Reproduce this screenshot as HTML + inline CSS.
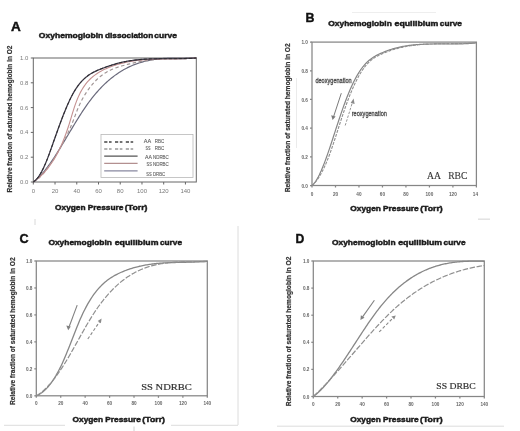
<!DOCTYPE html><html><head><meta charset="utf-8"><style>html,body{margin:0;padding:0;background:#fff;width:520px;height:431px;overflow:hidden}svg{display:block;filter:blur(0.35px)}text{font-family:"Liberation Sans",sans-serif}</style></head><body>
<svg width="520" height="431" viewBox="0 0 520 431">
<rect width="520" height="431" fill="#fff"/>
<rect x="33.30" y="58.00" width="163.00" height="124.00" fill="none" stroke="#666666" stroke-width="1.00"/>
<line x1="30.80" y1="182.00" x2="33.30" y2="182.00" stroke="#666666" stroke-width="1.00"/>
<text x="28.30" y="184.04" font-size="6.00" fill="#7a7a7a" text-anchor="end" textLength="8.3" lengthAdjust="spacingAndGlyphs">0.0</text>
<line x1="30.80" y1="157.20" x2="33.30" y2="157.20" stroke="#666666" stroke-width="1.00"/>
<text x="28.30" y="159.24" font-size="6.00" fill="#7a7a7a" text-anchor="end" textLength="8.3" lengthAdjust="spacingAndGlyphs">0.2</text>
<line x1="30.80" y1="132.40" x2="33.30" y2="132.40" stroke="#666666" stroke-width="1.00"/>
<text x="28.30" y="134.44" font-size="6.00" fill="#7a7a7a" text-anchor="end" textLength="8.3" lengthAdjust="spacingAndGlyphs">0.4</text>
<line x1="30.80" y1="107.60" x2="33.30" y2="107.60" stroke="#666666" stroke-width="1.00"/>
<text x="28.30" y="109.64" font-size="6.00" fill="#7a7a7a" text-anchor="end" textLength="8.3" lengthAdjust="spacingAndGlyphs">0.6</text>
<line x1="30.80" y1="82.80" x2="33.30" y2="82.80" stroke="#666666" stroke-width="1.00"/>
<text x="28.30" y="84.84" font-size="6.00" fill="#7a7a7a" text-anchor="end" textLength="8.3" lengthAdjust="spacingAndGlyphs">0.8</text>
<line x1="30.80" y1="58.00" x2="33.30" y2="58.00" stroke="#666666" stroke-width="1.00"/>
<text x="28.30" y="60.04" font-size="6.00" fill="#7a7a7a" text-anchor="end" textLength="8.3" lengthAdjust="spacingAndGlyphs">1.0</text>
<line x1="33.30" y1="182.00" x2="33.30" y2="184.50" stroke="#666666" stroke-width="1.00"/>
<text x="33.30" y="193.20" font-size="6.00" fill="#7a7a7a" text-anchor="middle" textLength="3.3" lengthAdjust="spacingAndGlyphs">0</text>
<line x1="55.03" y1="182.00" x2="55.03" y2="184.50" stroke="#666666" stroke-width="1.00"/>
<text x="55.03" y="193.20" font-size="6.00" fill="#7a7a7a" text-anchor="middle" textLength="6.7" lengthAdjust="spacingAndGlyphs">20</text>
<line x1="76.77" y1="182.00" x2="76.77" y2="184.50" stroke="#666666" stroke-width="1.00"/>
<text x="76.77" y="193.20" font-size="6.00" fill="#7a7a7a" text-anchor="middle" textLength="6.7" lengthAdjust="spacingAndGlyphs">40</text>
<line x1="98.50" y1="182.00" x2="98.50" y2="184.50" stroke="#666666" stroke-width="1.00"/>
<text x="98.50" y="193.20" font-size="6.00" fill="#7a7a7a" text-anchor="middle" textLength="6.7" lengthAdjust="spacingAndGlyphs">60</text>
<line x1="120.23" y1="182.00" x2="120.23" y2="184.50" stroke="#666666" stroke-width="1.00"/>
<text x="120.23" y="193.20" font-size="6.00" fill="#7a7a7a" text-anchor="middle" textLength="6.7" lengthAdjust="spacingAndGlyphs">80</text>
<line x1="141.97" y1="182.00" x2="141.97" y2="184.50" stroke="#666666" stroke-width="1.00"/>
<text x="141.97" y="193.20" font-size="6.00" fill="#7a7a7a" text-anchor="middle" textLength="10.0" lengthAdjust="spacingAndGlyphs">100</text>
<line x1="163.70" y1="182.00" x2="163.70" y2="184.50" stroke="#666666" stroke-width="1.00"/>
<text x="163.70" y="193.20" font-size="6.00" fill="#7a7a7a" text-anchor="middle" textLength="10.0" lengthAdjust="spacingAndGlyphs">120</text>
<line x1="185.43" y1="182.00" x2="185.43" y2="184.50" stroke="#666666" stroke-width="1.00"/>
<text x="185.43" y="193.20" font-size="6.00" fill="#7a7a7a" text-anchor="middle" textLength="10.0" lengthAdjust="spacingAndGlyphs">140</text>
<text x="10.90" y="30.80" font-size="12.60" fill="#111" font-weight="bold" stroke="#111" stroke-width="0.40" textLength="9.8" lengthAdjust="spacingAndGlyphs">A</text>
<text x="38.85" y="37.90" font-size="7.60" fill="#1a1a1a" font-weight="bold" stroke="#1a1a1a" stroke-width="0.45" textLength="64.5" lengthAdjust="spacingAndGlyphs">Oxyhemoglobin</text>
<text x="104.95" y="37.90" font-size="7.60" fill="#1a1a1a" font-weight="bold" stroke="#1a1a1a" stroke-width="0.45" textLength="48.3" lengthAdjust="spacingAndGlyphs">dissociation</text>
<text x="154.25" y="37.90" font-size="7.60" fill="#1a1a1a" font-weight="bold" stroke="#1a1a1a" stroke-width="0.45" textLength="22.6" lengthAdjust="spacingAndGlyphs">curve</text>
<text x="55.05" y="209.90" font-size="7.70" fill="#1a1a1a" font-weight="bold" stroke="#1a1a1a" stroke-width="0.45" textLength="30.5" lengthAdjust="spacingAndGlyphs">Oxygen</text>
<text x="87.75" y="209.90" font-size="7.70" fill="#1a1a1a" font-weight="bold" stroke="#1a1a1a" stroke-width="0.45" textLength="35.7" lengthAdjust="spacingAndGlyphs">Pressure</text>
<text x="124.85" y="209.90" font-size="7.70" fill="#1a1a1a" font-weight="bold" stroke="#1a1a1a" stroke-width="0.45" textLength="22.6" lengthAdjust="spacingAndGlyphs">(Torr)</text>
<text transform="translate(11.6,119) rotate(-90)" x="0" y="0" font-size="7" fill="#333" stroke="#333" stroke-width="0.2" font-weight="bold" text-anchor="middle" textLength="147" lengthAdjust="spacingAndGlyphs">Relative fraction of saturated hemoglobin in O2</text>
<g fill="none" stroke-linejoin="round">
<path d="M33.30 182.00 L34.33 181.26 L35.35 180.43 L36.38 179.56 L37.40 178.63 L38.43 177.65 L39.45 176.62 L40.48 175.54 L41.50 174.42 L42.53 173.26 L43.55 172.05 L44.58 170.80 L45.60 169.52 L46.63 168.19 L47.65 166.83 L48.68 165.44 L49.70 164.01 L50.73 162.56 L51.75 161.07 L52.78 159.56 L53.80 158.02 L54.83 156.46 L55.85 154.88 L56.88 153.27 L57.90 151.65 L58.93 150.01 L59.95 148.35 L60.98 146.68 L62.00 145.00 L63.03 143.31 L64.05 141.61 L65.08 139.90 L66.11 138.19 L67.13 136.47 L68.16 134.75 L69.18 133.03 L70.21 131.31 L71.23 129.60 L72.26 127.89 L73.28 126.18 L74.31 124.49 L75.33 122.80 L76.36 121.13 L77.38 119.46 L78.41 117.82 L79.43 116.19 L80.46 114.57 L81.48 112.98 L82.51 111.41 L83.53 109.86 L84.56 108.33 L85.58 106.83 L86.61 105.36 L87.63 103.92 L88.66 102.51 L89.68 101.13 L90.71 99.78 L91.73 98.45 L92.76 97.15 L93.78 95.88 L94.81 94.64 L95.83 93.43 L96.86 92.24 L97.88 91.08 L98.91 89.95 L99.94 88.84 L100.96 87.75 L101.99 86.70 L103.01 85.66 L104.04 84.66 L105.06 83.67 L106.09 82.71 L107.11 81.78 L108.14 80.87 L109.16 79.98 L110.19 79.12 L111.21 78.27 L112.24 77.45 L113.26 76.66 L114.29 75.88 L115.31 75.13 L116.34 74.39 L117.36 73.68 L118.39 72.99 L119.41 72.32 L120.44 71.67 L121.46 71.04 L122.49 70.42 L123.51 69.83 L124.54 69.26 L125.56 68.70 L126.59 68.16 L127.61 67.65 L128.64 67.14 L129.66 66.66 L130.69 66.19 L131.72 65.74 L132.74 65.31 L133.77 64.89 L134.79 64.49 L135.82 64.10 L136.84 63.73 L137.87 63.37 L138.89 63.03 L139.92 62.70 L140.94 62.39 L141.97 62.09 L142.99 61.80 L144.02 61.53 L145.04 61.27 L146.07 61.02 L147.09 60.79 L148.12 60.56 L149.14 60.35 L150.17 60.15 L151.19 59.96 L152.22 59.78 L153.24 59.62 L154.27 59.46 L155.29 59.31 L156.32 59.17 L157.34 59.04 L158.37 58.92 L159.39 58.81 L160.42 58.70 L161.44 58.61 L162.47 58.52 L163.49 58.44 L164.52 58.37 L165.55 58.30 L166.57 58.24 L167.60 58.19 L168.62 58.14 L169.65 58.10 L170.67 58.06 L171.70 58.03 L172.72 58.00 L173.75 58.00 L174.77 58.00 L175.80 58.00 L176.82 58.00 L177.85 58.00 L178.87 58.00 L179.90 58.00 L180.92 58.00 L181.95 58.00 L182.97 58.00 L184.00 58.00 L185.02 58.00 L186.05 58.00 L187.07 58.00 L188.10 58.00 L189.12 58.00 L190.15 58.00 L191.17 58.00 L192.20 58.00 L193.22 58.00 L194.25 58.01 L195.27 58.01 L196.30 58.01" stroke="#6a6a7c" stroke-width="1.2"/>
<path d="M33.30 182.00 L34.33 181.44 L35.35 180.82 L36.38 180.12 L37.40 179.35 L38.43 178.50 L39.45 177.60 L40.48 176.62 L41.50 175.59 L42.53 174.49 L43.55 173.33 L44.58 172.12 L45.60 170.85 L46.63 169.53 L47.65 168.15 L48.68 166.73 L49.70 165.26 L50.73 163.74 L51.75 162.18 L52.78 160.58 L53.80 158.94 L54.83 157.27 L55.85 155.56 L56.88 153.81 L57.90 152.03 L58.93 150.23 L59.95 148.40 L60.98 146.54 L62.00 144.66 L63.03 142.75 L64.05 140.81 L65.08 138.83 L66.11 136.79 L67.13 134.70 L68.16 132.54 L69.18 130.31 L70.21 127.99 L71.23 125.58 L72.26 123.07 L73.28 120.46 L74.31 117.78 L75.33 115.08 L76.36 112.40 L77.38 109.79 L78.41 107.29 L79.43 104.95 L80.46 102.77 L81.48 100.74 L82.51 98.84 L83.53 97.03 L84.56 95.31 L85.58 93.65 L86.61 92.07 L87.63 90.54 L88.66 89.09 L89.68 87.69 L90.71 86.35 L91.73 85.08 L92.76 83.86 L93.78 82.70 L94.81 81.59 L95.83 80.53 L96.86 79.52 L97.88 78.57 L98.91 77.65 L99.94 76.79 L100.96 75.97 L101.99 75.19 L103.01 74.45 L104.04 73.75 L105.06 73.08 L106.09 72.45 L107.11 71.85 L108.14 71.29 L109.16 70.76 L110.19 70.25 L111.21 69.77 L112.24 69.31 L113.26 68.88 L114.29 68.47 L115.31 68.08 L116.34 67.71 L117.36 67.35 L118.39 67.01 L119.41 66.68 L120.44 66.36 L121.46 66.05 L122.49 65.75 L123.51 65.45 L124.54 65.17 L125.56 64.89 L126.59 64.61 L127.61 64.35 L128.64 64.09 L129.66 63.84 L130.69 63.59 L131.72 63.35 L132.74 63.12 L133.77 62.90 L134.79 62.68 L135.82 62.46 L136.84 62.26 L137.87 62.06 L138.89 61.86 L139.92 61.67 L140.94 61.49 L141.97 61.31 L142.99 61.14 L144.02 60.98 L145.04 60.82 L146.07 60.66 L147.09 60.51 L148.12 60.37 L149.14 60.23 L150.17 60.10 L151.19 59.97 L152.22 59.84 L153.24 59.73 L154.27 59.61 L155.29 59.50 L156.32 59.40 L157.34 59.30 L158.37 59.20 L159.39 59.11 L160.42 59.02 L161.44 58.94 L162.47 58.86 L163.49 58.79 L164.52 58.72 L165.55 58.65 L166.57 58.58 L167.60 58.53 L168.62 58.47 L169.65 58.42 L170.67 58.37 L171.70 58.32 L172.72 58.28 L173.75 58.24 L174.77 58.20 L175.80 58.17 L176.82 58.14 L177.85 58.11 L178.87 58.09 L179.90 58.06 L180.92 58.04 L181.95 58.03 L182.97 58.01 L184.00 58.00 L185.02 58.00 L186.05 58.00 L187.07 58.00 L188.10 58.00 L189.12 58.00 L190.15 58.00 L191.17 58.00 L192.20 58.00 L193.22 58.00 L194.25 58.00 L195.27 58.00 L196.30 58.00" stroke="#a09494" stroke-width="1.15" stroke-dasharray="3.5 2.5"/>
<path d="M33.30 182.00 L34.33 181.28 L35.35 180.52 L36.38 179.73 L37.40 178.91 L38.43 178.05 L39.45 177.15 L40.48 176.22 L41.50 175.24 L42.53 174.21 L43.55 173.14 L44.58 172.03 L45.60 170.87 L46.63 169.65 L47.65 168.39 L48.68 167.07 L49.70 165.70 L50.73 164.27 L51.75 162.78 L52.78 161.23 L53.80 159.61 L54.83 157.92 L55.85 156.16 L56.88 154.31 L57.90 152.37 L58.93 150.35 L59.95 148.22 L60.98 146.00 L62.00 143.67 L63.03 141.23 L64.05 138.67 L65.08 136.00 L66.11 133.21 L67.13 130.29 L68.16 127.24 L69.18 124.07 L70.21 120.76 L71.23 117.36 L72.26 113.95 L73.28 110.61 L74.31 107.41 L75.33 104.40 L76.36 101.62 L77.38 99.03 L78.41 96.64 L79.43 94.42 L80.46 92.37 L81.48 90.47 L82.51 88.72 L83.53 87.10 L84.56 85.60 L85.58 84.20 L86.61 82.90 L87.63 81.69 L88.66 80.56 L89.68 79.50 L90.71 78.51 L91.73 77.59 L92.76 76.72 L93.78 75.91 L94.81 75.13 L95.83 74.40 L96.86 73.69 L97.88 73.02 L98.91 72.38 L99.94 71.77 L100.96 71.19 L101.99 70.63 L103.01 70.09 L104.04 69.58 L105.06 69.10 L106.09 68.63 L107.11 68.18 L108.14 67.75 L109.16 67.34 L110.19 66.94 L111.21 66.56 L112.24 66.19 L113.26 65.83 L114.29 65.48 L115.31 65.15 L116.34 64.82 L117.36 64.51 L118.39 64.21 L119.41 63.93 L120.44 63.65 L121.46 63.38 L122.49 63.13 L123.51 62.88 L124.54 62.65 L125.56 62.42 L126.59 62.21 L127.61 62.00 L128.64 61.81 L129.66 61.62 L130.69 61.44 L131.72 61.27 L132.74 61.11 L133.77 60.95 L134.79 60.81 L135.82 60.67 L136.84 60.54 L137.87 60.42 L138.89 60.30 L139.92 60.19 L140.94 60.09 L141.97 59.99 L142.99 59.90 L144.02 59.81 L145.04 59.73 L146.07 59.66 L147.09 59.59 L148.12 59.53 L149.14 59.47 L150.17 59.42 L151.19 59.36 L152.22 59.32 L153.24 59.28 L154.27 59.24 L155.29 59.20 L156.32 59.17 L157.34 59.14 L158.37 59.12 L159.39 59.09 L160.42 59.07 L161.44 59.05 L162.47 59.03 L163.49 59.02 L164.52 59.00 L165.55 58.99 L166.57 58.98 L167.60 58.96 L168.62 58.95 L169.65 58.94 L170.67 58.93 L171.70 58.92 L172.72 58.91 L173.75 58.89 L174.77 58.88 L175.80 58.87 L176.82 58.85 L177.85 58.83 L178.87 58.81 L179.90 58.79 L180.92 58.77 L181.95 58.74 L182.97 58.71 L184.00 58.68 L185.02 58.65 L186.05 58.61 L187.07 58.57 L188.10 58.52 L189.12 58.48 L190.15 58.42 L191.17 58.36 L192.20 58.30 L193.22 58.23 L194.25 58.16 L195.27 58.08 L196.30 58.00" stroke="#c49090" stroke-width="1.1"/>
<path d="M33.30 181.99 L34.33 181.27 L35.35 180.40 L36.38 179.36 L37.40 178.17 L38.43 176.82 L39.45 175.32 L40.48 173.67 L41.50 171.87 L42.53 169.92 L43.55 167.84 L44.58 165.61 L45.60 163.24 L46.63 160.74 L47.65 158.13 L48.68 155.41 L49.70 152.63 L50.73 149.78 L51.75 146.90 L52.78 144.00 L53.80 141.09 L54.83 138.19 L55.85 135.30 L56.88 132.42 L57.90 129.57 L58.93 126.74 L59.95 123.94 L60.98 121.18 L62.00 118.47 L63.03 115.80 L64.05 113.19 L65.08 110.64 L66.11 108.16 L67.13 105.75 L68.16 103.42 L69.18 101.17 L70.21 99.01 L71.23 96.95 L72.26 94.98 L73.28 93.12 L74.31 91.36 L75.33 89.70 L76.36 88.12 L77.38 86.64 L78.41 85.24 L79.43 83.92 L80.46 82.68 L81.48 81.51 L82.51 80.42 L83.53 79.39 L84.56 78.43 L85.58 77.53 L86.61 76.68 L87.63 75.89 L88.66 75.15 L89.68 74.46 L90.71 73.81 L91.73 73.20 L92.76 72.63 L93.78 72.09 L94.81 71.58 L95.83 71.09 L96.86 70.63 L97.88 70.19 L98.91 69.76 L99.94 69.34 L100.96 68.94 L101.99 68.54 L103.01 68.14 L104.04 67.76 L105.06 67.38 L106.09 67.01 L107.11 66.64 L108.14 66.29 L109.16 65.94 L110.19 65.60 L111.21 65.26 L112.24 64.94 L113.26 64.62 L114.29 64.32 L115.31 64.02 L116.34 63.73 L117.36 63.45 L118.39 63.18 L119.41 62.92 L120.44 62.66 L121.46 62.42 L122.49 62.19 L123.51 61.97 L124.54 61.75 L125.56 61.55 L126.59 61.36 L127.61 61.17 L128.64 61.00 L129.66 60.83 L130.69 60.67 L131.72 60.52 L132.74 60.37 L133.77 60.24 L134.79 60.11 L135.82 59.99 L136.84 59.88 L137.87 59.77 L138.89 59.67 L139.92 59.57 L140.94 59.49 L141.97 59.40 L142.99 59.33 L144.02 59.26 L145.04 59.19 L146.07 59.13 L147.09 59.08 L148.12 59.03 L149.14 58.98 L150.17 58.94 L151.19 58.90 L152.22 58.87 L153.24 58.84 L154.27 58.81 L155.29 58.79 L156.32 58.77 L157.34 58.75 L158.37 58.73 L159.39 58.72 L160.42 58.71 L161.44 58.70 L162.47 58.69 L163.49 58.69 L164.52 58.68 L165.55 58.68 L166.57 58.68 L167.60 58.68 L168.62 58.67 L169.65 58.67 L170.67 58.67 L171.70 58.67 L172.72 58.67 L173.75 58.66 L174.77 58.66 L175.80 58.66 L176.82 58.65 L177.85 58.64 L178.87 58.63 L179.90 58.62 L180.92 58.61 L181.95 58.59 L182.97 58.57 L184.00 58.55 L185.02 58.53 L186.05 58.50 L187.07 58.47 L188.10 58.43 L189.12 58.40 L190.15 58.35 L191.17 58.31 L192.20 58.26 L193.22 58.20 L194.25 58.14 L195.27 58.07 L196.30 58.00" stroke="#454050" stroke-width="1.3"/>
<path d="M33.30 181.99 L34.33 181.27 L35.35 180.40 L36.38 179.36 L37.40 178.17 L38.43 176.82 L39.45 175.32 L40.48 173.67 L41.50 171.87 L42.53 169.92 L43.55 167.84 L44.58 165.61 L45.60 163.24 L46.63 160.74 L47.65 158.13 L48.68 155.41 L49.70 152.63 L50.73 149.78 L51.75 146.90 L52.78 144.00 L53.80 141.09 L54.83 138.19 L55.85 135.30 L56.88 132.42 L57.90 129.57 L58.93 126.74 L59.95 123.94 L60.98 121.18 L62.00 118.47 L63.03 115.80 L64.05 113.19 L65.08 110.64 L66.11 108.16 L67.13 105.75 L68.16 103.42 L69.18 101.17 L70.21 99.01 L71.23 96.95 L72.26 94.98 L73.28 93.12 L74.31 91.36 L75.33 89.70 L76.36 88.12 L77.38 86.64 L78.41 85.24 L79.43 83.92 L80.46 82.68 L81.48 81.51 L82.51 80.42 L83.53 79.39 L84.56 78.43 L85.58 77.53 L86.61 76.68 L87.63 75.89 L88.66 75.15 L89.68 74.46 L90.71 73.81 L91.73 73.20 L92.76 72.63 L93.78 72.09 L94.81 71.58 L95.83 71.09 L96.86 70.63 L97.88 70.19 L98.91 69.76 L99.94 69.34 L100.96 68.94 L101.99 68.54 L103.01 68.14 L104.04 67.76 L105.06 67.38 L106.09 67.01 L107.11 66.64 L108.14 66.29 L109.16 65.94 L110.19 65.60 L111.21 65.26 L112.24 64.94 L113.26 64.62 L114.29 64.32 L115.31 64.02 L116.34 63.73 L117.36 63.45 L118.39 63.18 L119.41 62.92 L120.44 62.66 L121.46 62.42 L122.49 62.19 L123.51 61.97 L124.54 61.75 L125.56 61.55 L126.59 61.36 L127.61 61.17 L128.64 61.00 L129.66 60.83 L130.69 60.67 L131.72 60.52 L132.74 60.37 L133.77 60.24 L134.79 60.11 L135.82 59.99 L136.84 59.88 L137.87 59.77 L138.89 59.67 L139.92 59.57 L140.94 59.49 L141.97 59.40 L142.99 59.33 L144.02 59.26 L145.04 59.19 L146.07 59.13 L147.09 59.08 L148.12 59.03 L149.14 58.98 L150.17 58.94 L151.19 58.90 L152.22 58.87 L153.24 58.84 L154.27 58.81 L155.29 58.79 L156.32 58.77 L157.34 58.75 L158.37 58.73 L159.39 58.72 L160.42 58.71 L161.44 58.70 L162.47 58.69 L163.49 58.69 L164.52 58.68 L165.55 58.68 L166.57 58.68 L167.60 58.68 L168.62 58.67 L169.65 58.67 L170.67 58.67 L171.70 58.67 L172.72 58.67 L173.75 58.66 L174.77 58.66 L175.80 58.66 L176.82 58.65 L177.85 58.64 L178.87 58.63 L179.90 58.62 L180.92 58.61 L181.95 58.59 L182.97 58.57 L184.00 58.55 L185.02 58.53 L186.05 58.50 L187.07 58.47 L188.10 58.43 L189.12 58.40 L190.15 58.35 L191.17 58.31 L192.20 58.26 L193.22 58.20 L194.25 58.14 L195.27 58.07 L196.30 58.00" stroke="#2a2a2a" stroke-width="1.0" stroke-dasharray="3 2"/>
</g>
<rect x="101" y="134.5" width="92" height="43" fill="#fff" stroke="#b8b8b8" stroke-width="0.8"/>
<line x1="104.2" y1="142.00" x2="134.00" y2="142.00" stroke="#444" stroke-width="1.40" stroke-dasharray="3.2 1.6 2.6 3.4"/>
<line x1="104.2" y1="149.00" x2="134.00" y2="149.00" stroke="#999" stroke-width="1.40" stroke-dasharray="3.2 1.6 2.6 3.4"/>
<line x1="104.2" y1="156.20" x2="137.60" y2="156.20" stroke="#555" stroke-width="1.30"/>
<line x1="104.2" y1="163.40" x2="137.60" y2="163.40" stroke="#b39090" stroke-width="1.30"/>
<line x1="104.2" y1="170.80" x2="137.60" y2="170.80" stroke="#8888a0" stroke-width="1.30"/>
<text x="143.80" y="142.70" font-size="5.20" fill="#555" stroke="#555" stroke-width="0.08" textLength="7.4" lengthAdjust="spacingAndGlyphs">AA</text>
<text x="154.80" y="142.70" font-size="5.20" fill="#555" stroke="#555" stroke-width="0.08" textLength="9.4" lengthAdjust="spacingAndGlyphs">RBC</text>
<text x="145.60" y="150.20" font-size="5.20" fill="#555" stroke="#555" stroke-width="0.08" textLength="5.0" lengthAdjust="spacingAndGlyphs">SS</text>
<text x="154.80" y="150.20" font-size="5.20" fill="#555" stroke="#555" stroke-width="0.08" textLength="9.4" lengthAdjust="spacingAndGlyphs">RBC</text>
<text x="145.00" y="158.50" font-size="5.20" fill="#555" stroke="#555" stroke-width="0.08" textLength="6.9" lengthAdjust="spacingAndGlyphs">AA</text>
<text x="153.00" y="158.50" font-size="5.20" fill="#555" stroke="#555" stroke-width="0.08" textLength="15.8" lengthAdjust="spacingAndGlyphs">NDRBC</text>
<text x="146.60" y="166.20" font-size="5.20" fill="#555" stroke="#555" stroke-width="0.08" textLength="5.3" lengthAdjust="spacingAndGlyphs">SS</text>
<text x="153.00" y="166.20" font-size="5.20" fill="#555" stroke="#555" stroke-width="0.08" textLength="15.8" lengthAdjust="spacingAndGlyphs">NDRBC</text>
<text x="146.30" y="175.60" font-size="5.20" fill="#555" stroke="#555" stroke-width="0.08" textLength="5.4" lengthAdjust="spacingAndGlyphs">SS</text>
<text x="153.00" y="175.60" font-size="5.20" fill="#555" stroke="#555" stroke-width="0.08" textLength="12.1" lengthAdjust="spacingAndGlyphs">DRBC</text>
<rect x="312.00" y="42.10" width="164.40" height="143.40" fill="none" stroke="#868686" stroke-width="1.25"/>
<line x1="310.00" y1="185.50" x2="312.00" y2="185.50" stroke="#868686" stroke-width="1.25"/>
<text x="307.90" y="187.54" font-size="6.00" fill="#666" font-weight="bold" text-anchor="end" textLength="6.5" lengthAdjust="spacingAndGlyphs">0.0</text>
<line x1="310.00" y1="156.82" x2="312.00" y2="156.82" stroke="#868686" stroke-width="1.25"/>
<text x="307.90" y="158.86" font-size="6.00" fill="#666" font-weight="bold" text-anchor="end" textLength="6.5" lengthAdjust="spacingAndGlyphs">0.2</text>
<line x1="310.00" y1="128.14" x2="312.00" y2="128.14" stroke="#868686" stroke-width="1.25"/>
<text x="307.90" y="130.18" font-size="6.00" fill="#666" font-weight="bold" text-anchor="end" textLength="6.5" lengthAdjust="spacingAndGlyphs">0.4</text>
<line x1="310.00" y1="99.46" x2="312.00" y2="99.46" stroke="#868686" stroke-width="1.25"/>
<text x="307.90" y="101.50" font-size="6.00" fill="#666" font-weight="bold" text-anchor="end" textLength="6.5" lengthAdjust="spacingAndGlyphs">0.6</text>
<line x1="310.00" y1="70.78" x2="312.00" y2="70.78" stroke="#868686" stroke-width="1.25"/>
<text x="307.90" y="72.82" font-size="6.00" fill="#666" font-weight="bold" text-anchor="end" textLength="6.5" lengthAdjust="spacingAndGlyphs">0.8</text>
<line x1="310.00" y1="42.10" x2="312.00" y2="42.10" stroke="#868686" stroke-width="1.25"/>
<text x="307.90" y="44.14" font-size="6.00" fill="#666" font-weight="bold" text-anchor="end" textLength="6.5" lengthAdjust="spacingAndGlyphs">1.0</text>
<line x1="312.00" y1="185.50" x2="312.00" y2="187.50" stroke="#868686" stroke-width="1.25"/>
<text x="312.00" y="196.40" font-size="6.00" fill="#666" font-weight="bold" text-anchor="middle" textLength="2.6" lengthAdjust="spacingAndGlyphs">0</text>
<line x1="335.49" y1="185.50" x2="335.49" y2="187.50" stroke="#868686" stroke-width="1.25"/>
<text x="335.49" y="196.40" font-size="6.00" fill="#666" font-weight="bold" text-anchor="middle" textLength="5.2" lengthAdjust="spacingAndGlyphs">20</text>
<line x1="358.97" y1="185.50" x2="358.97" y2="187.50" stroke="#868686" stroke-width="1.25"/>
<text x="358.97" y="196.40" font-size="6.00" fill="#666" font-weight="bold" text-anchor="middle" textLength="5.2" lengthAdjust="spacingAndGlyphs">40</text>
<line x1="382.46" y1="185.50" x2="382.46" y2="187.50" stroke="#868686" stroke-width="1.25"/>
<text x="382.46" y="196.40" font-size="6.00" fill="#666" font-weight="bold" text-anchor="middle" textLength="5.2" lengthAdjust="spacingAndGlyphs">60</text>
<line x1="405.94" y1="185.50" x2="405.94" y2="187.50" stroke="#868686" stroke-width="1.25"/>
<text x="405.94" y="196.40" font-size="6.00" fill="#666" font-weight="bold" text-anchor="middle" textLength="5.2" lengthAdjust="spacingAndGlyphs">80</text>
<line x1="429.43" y1="185.50" x2="429.43" y2="187.50" stroke="#868686" stroke-width="1.25"/>
<text x="429.43" y="196.40" font-size="6.00" fill="#666" font-weight="bold" text-anchor="middle" textLength="7.8" lengthAdjust="spacingAndGlyphs">100</text>
<line x1="452.91" y1="185.50" x2="452.91" y2="187.50" stroke="#868686" stroke-width="1.25"/>
<text x="452.91" y="196.40" font-size="6.00" fill="#666" font-weight="bold" text-anchor="middle" textLength="7.8" lengthAdjust="spacingAndGlyphs">120</text>
<line x1="476.40" y1="185.50" x2="476.40" y2="187.50" stroke="#868686" stroke-width="1.25"/>
<text x="472.80" y="196.40" font-size="6.00" fill="#666" font-weight="bold" textLength="5.2" lengthAdjust="spacingAndGlyphs">14</text>
<line x1="296.5" y1="78" x2="296.5" y2="148" stroke="#ebebeb" stroke-width="1"/>
<line x1="352" y1="12.5" x2="436" y2="12.5" stroke="#eeeeee" stroke-width="1.2"/>
<text x="305.60" y="21.90" font-size="12.40" fill="#111" font-weight="bold" stroke="#111" stroke-width="0.40">B</text>
<text x="328.25" y="26.10" font-size="7.50" fill="#1a1a1a" font-weight="bold" stroke="#1a1a1a" stroke-width="0.45" textLength="63.6" lengthAdjust="spacingAndGlyphs">Oxyhemoglobin</text>
<text x="394.55" y="26.10" font-size="7.50" fill="#1a1a1a" font-weight="bold" stroke="#1a1a1a" stroke-width="0.45" textLength="43.8" lengthAdjust="spacingAndGlyphs">equilibium</text>
<text x="439.85" y="26.10" font-size="7.50" fill="#1a1a1a" font-weight="bold" stroke="#1a1a1a" stroke-width="0.45" textLength="22.0" lengthAdjust="spacingAndGlyphs">curve</text>
<text x="350.35" y="210.90" font-size="7.70" fill="#1a1a1a" font-weight="bold" stroke="#1a1a1a" stroke-width="0.45" textLength="30.5" lengthAdjust="spacingAndGlyphs">Oxygen</text>
<text x="383.05" y="210.90" font-size="7.70" fill="#1a1a1a" font-weight="bold" stroke="#1a1a1a" stroke-width="0.45" textLength="35.7" lengthAdjust="spacingAndGlyphs">Pressure</text>
<text x="420.15" y="210.90" font-size="7.70" fill="#1a1a1a" font-weight="bold" stroke="#1a1a1a" stroke-width="0.45" textLength="22.6" lengthAdjust="spacingAndGlyphs">(Torr)</text>
<text transform="translate(290.4,117.8) rotate(-90)" x="0" y="0" font-size="6.8" fill="#333" stroke="#333" stroke-width="0.2" font-weight="bold" text-anchor="middle" textLength="149" lengthAdjust="spacingAndGlyphs">Relative fraction of saturated hemoglobin in O2</text>
<g fill="none" stroke-linejoin="round">
<path d="M312.00 185.50 L313.03 184.57 L314.07 183.44 L315.10 182.10 L316.14 180.59 L317.17 178.89 L318.20 177.03 L319.24 175.01 L320.27 172.84 L321.31 170.53 L322.34 168.10 L323.37 165.55 L324.41 162.89 L325.44 160.14 L326.48 157.30 L327.51 154.38 L328.54 151.39 L329.58 148.35 L330.61 145.26 L331.65 142.13 L332.68 138.97 L333.71 135.80 L334.75 132.61 L335.78 129.43 L336.82 126.26 L337.85 123.11 L338.88 119.99 L339.92 116.90 L340.95 113.85 L341.98 110.85 L343.02 107.91 L344.05 105.03 L345.09 102.22 L346.12 99.47 L347.15 96.80 L348.19 94.21 L349.22 91.70 L350.26 89.27 L351.29 86.94 L352.32 84.69 L353.36 82.54 L354.39 80.48 L355.43 78.50 L356.46 76.62 L357.49 74.82 L358.53 73.11 L359.56 71.48 L360.60 69.94 L361.63 68.49 L362.66 67.11 L363.70 65.82 L364.73 64.62 L365.77 63.49 L366.80 62.44 L367.83 61.46 L368.87 60.55 L369.90 59.70 L370.94 58.90 L371.97 58.16 L373.00 57.47 L374.04 56.83 L375.07 56.22 L376.11 55.64 L377.14 55.10 L378.17 54.58 L379.21 54.08 L380.24 53.60 L381.28 53.13 L382.31 52.68 L383.34 52.24 L384.38 51.82 L385.41 51.41 L386.45 51.02 L387.48 50.64 L388.51 50.27 L389.55 49.92 L390.58 49.58 L391.62 49.25 L392.65 48.94 L393.68 48.64 L394.72 48.35 L395.75 48.07 L396.78 47.81 L397.82 47.55 L398.85 47.31 L399.89 47.08 L400.92 46.86 L401.95 46.65 L402.99 46.45 L404.02 46.26 L405.06 46.08 L406.09 45.91 L407.12 45.75 L408.16 45.59 L409.19 45.45 L410.23 45.32 L411.26 45.19 L412.29 45.07 L413.33 44.96 L414.36 44.85 L415.40 44.76 L416.43 44.67 L417.46 44.59 L418.50 44.51 L419.53 44.44 L420.57 44.37 L421.60 44.32 L422.63 44.26 L423.67 44.21 L424.70 44.17 L425.74 44.13 L426.77 44.10 L427.80 44.07 L428.84 44.04 L429.87 44.02 L430.91 44.00 L431.94 43.99 L432.97 43.98 L434.01 43.97 L435.04 43.96 L436.08 43.96 L437.11 43.95 L438.14 43.95 L439.18 43.95 L440.21 43.95 L441.25 43.96 L442.28 43.96 L443.31 43.96 L444.35 43.97 L445.38 43.97 L446.42 43.97 L447.45 43.98 L448.48 43.98 L449.52 43.98 L450.55 43.98 L451.58 43.98 L452.62 43.97 L453.65 43.97 L454.69 43.96 L455.72 43.95 L456.75 43.94 L457.79 43.92 L458.82 43.90 L459.86 43.88 L460.89 43.85 L461.92 43.82 L462.96 43.78 L463.99 43.74 L465.03 43.70 L466.06 43.65 L467.09 43.59 L468.13 43.53 L469.16 43.46 L470.20 43.39 L471.23 43.31 L472.26 43.23 L473.30 43.13 L474.33 43.03 L475.37 42.93 L476.40 42.81" stroke="#858585" stroke-width="1.2"/>
<path d="M312.00 185.49 L313.03 184.58 L314.07 183.56 L315.10 182.43 L316.14 181.18 L317.17 179.82 L318.20 178.34 L319.24 176.75 L320.27 175.04 L321.31 173.22 L322.34 171.28 L323.37 169.23 L324.41 167.06 L325.44 164.77 L326.48 162.36 L327.51 159.83 L328.54 157.19 L329.58 154.44 L330.61 151.60 L331.65 148.67 L332.68 145.66 L333.71 142.59 L334.75 139.47 L335.78 136.31 L336.82 133.12 L337.85 129.91 L338.88 126.70 L339.92 123.50 L340.95 120.31 L341.98 117.16 L343.02 114.06 L344.05 111.01 L345.09 108.03 L346.12 105.13 L347.15 102.29 L348.19 99.53 L349.22 96.85 L350.26 94.25 L351.29 91.73 L352.32 89.29 L353.36 86.94 L354.39 84.68 L355.43 82.51 L356.46 80.43 L357.49 78.44 L358.53 76.53 L359.56 74.71 L360.60 72.98 L361.63 71.33 L362.66 69.78 L363.70 68.31 L364.73 66.92 L365.77 65.63 L366.80 64.42 L367.83 63.29 L368.87 62.24 L369.90 61.28 L370.94 60.38 L371.97 59.55 L373.00 58.77 L374.04 58.06 L375.07 57.39 L376.11 56.77 L377.14 56.19 L378.17 55.64 L379.21 55.12 L380.24 54.63 L381.28 54.16 L382.31 53.70 L383.34 53.25 L384.38 52.82 L385.41 52.40 L386.45 52.00 L387.48 51.60 L388.51 51.23 L389.55 50.86 L390.58 50.50 L391.62 50.16 L392.65 49.83 L393.68 49.51 L394.72 49.20 L395.75 48.91 L396.78 48.62 L397.82 48.35 L398.85 48.08 L399.89 47.83 L400.92 47.58 L401.95 47.35 L402.99 47.13 L404.02 46.91 L405.06 46.71 L406.09 46.51 L407.12 46.32 L408.16 46.14 L409.19 45.97 L410.23 45.81 L411.26 45.66 L412.29 45.51 L413.33 45.37 L414.36 45.24 L415.40 45.12 L416.43 45.00 L417.46 44.89 L418.50 44.79 L419.53 44.69 L420.57 44.60 L421.60 44.51 L422.63 44.43 L423.67 44.36 L424.70 44.29 L425.74 44.23 L426.77 44.17 L427.80 44.11 L428.84 44.06 L429.87 44.02 L430.91 43.98 L431.94 43.94 L432.97 43.90 L434.01 43.87 L435.04 43.84 L436.08 43.82 L437.11 43.79 L438.14 43.77 L439.18 43.76 L440.21 43.74 L441.25 43.73 L442.28 43.71 L443.31 43.70 L444.35 43.69 L445.38 43.68 L446.42 43.68 L447.45 43.67 L448.48 43.66 L449.52 43.65 L450.55 43.65 L451.58 43.64 L452.62 43.63 L453.65 43.62 L454.69 43.61 L455.72 43.60 L456.75 43.59 L457.79 43.58 L458.82 43.56 L459.86 43.54 L460.89 43.52 L461.92 43.50 L462.96 43.48 L463.99 43.45 L465.03 43.42 L466.06 43.38 L467.09 43.35 L468.13 43.30 L469.16 43.26 L470.20 43.21 L471.23 43.16 L472.26 43.10 L473.30 43.04 L474.33 42.97 L475.37 42.89 L476.40 42.82" stroke="#8f8f8f" stroke-width="1.1" stroke-dasharray="3 1.2"/>
</g>
<text x="315.40" y="82.60" font-size="7.00" fill="#4a4a4a" stroke="#4a4a4a" stroke-width="0.30" textLength="36.3" lengthAdjust="spacingAndGlyphs">deoxygenation</text>
<text x="351.70" y="116.40" font-size="7.00" fill="#4a4a4a" stroke="#4a4a4a" stroke-width="0.30" textLength="35.2" lengthAdjust="spacingAndGlyphs">reoxygenation</text>
<line x1="341.3" y1="93.2" x2="333.6" y2="116.6" stroke="#7a7a7a" stroke-width="1"/>
<polygon points="332.6,120 331.2,115.2 335.6,116.6" fill="#7a7a7a"/>
<line x1="345.2" y1="125.5" x2="352.4" y2="102.5" stroke="#8a8a8a" stroke-width="0.9" stroke-dasharray="2.5 1.5"/>
<polygon points="353.6,98.6 350.6,103 354.6,104" fill="#8a8a8a"/>
<text x="427.00" y="178.70" font-size="9.50" fill="#333" stroke="#333" stroke-width="0.10" textLength="40.5" lengthAdjust="spacingAndGlyphs" style="font-family:'Liberation Serif',serif">AA&#160;&#160;&#160;RBC</text>
<rect x="36.30" y="261.00" width="171.00" height="134.80" fill="none" stroke="#868686" stroke-width="1.25"/>
<line x1="34.30" y1="395.80" x2="36.30" y2="395.80" stroke="#868686" stroke-width="1.25"/>
<text x="32.40" y="397.84" font-size="6.00" fill="#666" font-weight="bold" text-anchor="end" textLength="6.5" lengthAdjust="spacingAndGlyphs">0.0</text>
<line x1="34.30" y1="368.84" x2="36.30" y2="368.84" stroke="#868686" stroke-width="1.25"/>
<text x="32.40" y="370.88" font-size="6.00" fill="#666" font-weight="bold" text-anchor="end" textLength="6.5" lengthAdjust="spacingAndGlyphs">0.2</text>
<line x1="34.30" y1="341.88" x2="36.30" y2="341.88" stroke="#868686" stroke-width="1.25"/>
<text x="32.40" y="343.92" font-size="6.00" fill="#666" font-weight="bold" text-anchor="end" textLength="6.5" lengthAdjust="spacingAndGlyphs">0.4</text>
<line x1="34.30" y1="314.92" x2="36.30" y2="314.92" stroke="#868686" stroke-width="1.25"/>
<text x="32.40" y="316.96" font-size="6.00" fill="#666" font-weight="bold" text-anchor="end" textLength="6.5" lengthAdjust="spacingAndGlyphs">0.6</text>
<line x1="34.30" y1="287.96" x2="36.30" y2="287.96" stroke="#868686" stroke-width="1.25"/>
<text x="32.40" y="290.00" font-size="6.00" fill="#666" font-weight="bold" text-anchor="end" textLength="6.5" lengthAdjust="spacingAndGlyphs">0.8</text>
<line x1="34.30" y1="261.00" x2="36.30" y2="261.00" stroke="#868686" stroke-width="1.25"/>
<text x="32.40" y="263.04" font-size="6.00" fill="#666" font-weight="bold" text-anchor="end" textLength="6.5" lengthAdjust="spacingAndGlyphs">1.0</text>
<line x1="36.30" y1="395.80" x2="36.30" y2="397.80" stroke="#868686" stroke-width="1.25"/>
<text x="36.30" y="405.40" font-size="6.00" fill="#666" font-weight="bold" text-anchor="middle" textLength="2.6" lengthAdjust="spacingAndGlyphs">0</text>
<line x1="60.73" y1="395.80" x2="60.73" y2="397.80" stroke="#868686" stroke-width="1.25"/>
<text x="60.73" y="405.40" font-size="6.00" fill="#666" font-weight="bold" text-anchor="middle" textLength="5.2" lengthAdjust="spacingAndGlyphs">20</text>
<line x1="85.16" y1="395.80" x2="85.16" y2="397.80" stroke="#868686" stroke-width="1.25"/>
<text x="85.16" y="405.40" font-size="6.00" fill="#666" font-weight="bold" text-anchor="middle" textLength="5.2" lengthAdjust="spacingAndGlyphs">40</text>
<line x1="109.59" y1="395.80" x2="109.59" y2="397.80" stroke="#868686" stroke-width="1.25"/>
<text x="109.59" y="405.40" font-size="6.00" fill="#666" font-weight="bold" text-anchor="middle" textLength="5.2" lengthAdjust="spacingAndGlyphs">60</text>
<line x1="134.01" y1="395.80" x2="134.01" y2="397.80" stroke="#868686" stroke-width="1.25"/>
<text x="134.01" y="405.40" font-size="6.00" fill="#666" font-weight="bold" text-anchor="middle" textLength="5.2" lengthAdjust="spacingAndGlyphs">80</text>
<line x1="158.44" y1="395.80" x2="158.44" y2="397.80" stroke="#868686" stroke-width="1.25"/>
<text x="158.44" y="405.40" font-size="6.00" fill="#666" font-weight="bold" text-anchor="middle" textLength="7.8" lengthAdjust="spacingAndGlyphs">100</text>
<line x1="182.87" y1="395.80" x2="182.87" y2="397.80" stroke="#868686" stroke-width="1.25"/>
<text x="182.87" y="405.40" font-size="6.00" fill="#666" font-weight="bold" text-anchor="middle" textLength="7.8" lengthAdjust="spacingAndGlyphs">120</text>
<line x1="207.30" y1="395.80" x2="207.30" y2="397.80" stroke="#868686" stroke-width="1.25"/>
<text x="207.30" y="405.40" font-size="6.00" fill="#666" font-weight="bold" text-anchor="middle" textLength="7.8" lengthAdjust="spacingAndGlyphs">140</text>
<text x="19.40" y="243.00" font-size="12.60" fill="#111" font-weight="bold" stroke="#111" stroke-width="0.40">C</text>
<text x="48.40" y="244.80" font-size="7.50" fill="#1a1a1a" font-weight="bold" stroke="#1a1a1a" stroke-width="0.45" textLength="63.6" lengthAdjust="spacingAndGlyphs">Oxyhemoglobin</text>
<text x="114.70" y="244.80" font-size="7.50" fill="#1a1a1a" font-weight="bold" stroke="#1a1a1a" stroke-width="0.45" textLength="43.8" lengthAdjust="spacingAndGlyphs">equilibium</text>
<text x="160.00" y="244.80" font-size="7.50" fill="#1a1a1a" font-weight="bold" stroke="#1a1a1a" stroke-width="0.45" textLength="22.0" lengthAdjust="spacingAndGlyphs">curve</text>
<text x="72.55" y="421.50" font-size="7.70" fill="#1a1a1a" font-weight="bold" stroke="#1a1a1a" stroke-width="0.45" textLength="30.5" lengthAdjust="spacingAndGlyphs">Oxygen</text>
<text x="105.25" y="421.50" font-size="7.70" fill="#1a1a1a" font-weight="bold" stroke="#1a1a1a" stroke-width="0.45" textLength="35.7" lengthAdjust="spacingAndGlyphs">Pressure</text>
<text x="142.35" y="421.50" font-size="7.70" fill="#1a1a1a" font-weight="bold" stroke="#1a1a1a" stroke-width="0.45" textLength="22.6" lengthAdjust="spacingAndGlyphs">(Torr)</text>
<text transform="translate(15.2,331.2) rotate(-90)" x="0" y="0" font-size="6.3" fill="#333" stroke="#333" stroke-width="0.2" font-weight="bold" text-anchor="middle" textLength="147.5" lengthAdjust="spacingAndGlyphs">Relative fraction of saturated hemoglobin in O2</text>
<g fill="none" stroke-linejoin="round">
<path d="M36.30 395.79 L37.38 395.34 L38.45 394.81 L39.53 394.21 L40.60 393.54 L41.68 392.79 L42.75 391.97 L43.83 391.07 L44.90 390.10 L45.98 389.05 L47.05 387.92 L48.13 386.72 L49.21 385.43 L50.28 384.07 L51.36 382.63 L52.43 381.11 L53.51 379.50 L54.58 377.82 L55.66 376.05 L56.73 374.20 L57.81 372.26 L58.88 370.25 L59.96 368.14 L61.04 365.95 L62.11 363.68 L63.19 361.31 L64.26 358.87 L65.34 356.34 L66.41 353.76 L67.49 351.11 L68.56 348.42 L69.64 345.70 L70.72 342.95 L71.79 340.19 L72.87 337.43 L73.94 334.67 L75.02 331.93 L76.09 329.21 L77.17 326.54 L78.24 323.91 L79.32 321.34 L80.39 318.84 L81.47 316.41 L82.55 314.08 L83.62 311.83 L84.70 309.67 L85.77 307.59 L86.85 305.59 L87.92 303.67 L89.00 301.83 L90.07 300.07 L91.15 298.37 L92.22 296.75 L93.30 295.20 L94.38 293.71 L95.45 292.29 L96.53 290.93 L97.60 289.63 L98.68 288.39 L99.75 287.21 L100.83 286.08 L101.90 285.00 L102.98 283.98 L104.05 283.00 L105.13 282.07 L106.21 281.18 L107.28 280.34 L108.36 279.53 L109.43 278.77 L110.51 278.04 L111.58 277.34 L112.66 276.68 L113.73 276.04 L114.81 275.44 L115.88 274.86 L116.96 274.30 L118.04 273.77 L119.11 273.25 L120.19 272.75 L121.26 272.27 L122.34 271.81 L123.41 271.35 L124.49 270.92 L125.56 270.50 L126.64 270.09 L127.72 269.70 L128.79 269.32 L129.87 268.96 L130.94 268.61 L132.02 268.27 L133.09 267.94 L134.17 267.63 L135.24 267.33 L136.32 267.05 L137.39 266.77 L138.47 266.51 L139.55 266.25 L140.62 266.01 L141.70 265.78 L142.77 265.56 L143.85 265.35 L144.92 265.15 L146.00 264.96 L147.07 264.78 L148.15 264.61 L149.22 264.44 L150.30 264.29 L151.38 264.14 L152.45 264.00 L153.53 263.87 L154.60 263.75 L155.68 263.63 L156.75 263.52 L157.83 263.42 L158.90 263.33 L159.98 263.24 L161.05 263.15 L162.13 263.07 L163.21 263.00 L164.28 262.93 L165.36 262.87 L166.43 262.81 L167.51 262.76 L168.58 262.71 L169.66 262.66 L170.73 262.62 L171.81 262.58 L172.88 262.54 L173.96 262.51 L175.04 262.48 L176.11 262.45 L177.19 262.42 L178.26 262.39 L179.34 262.37 L180.41 262.34 L181.49 262.32 L182.56 262.29 L183.64 262.27 L184.72 262.25 L185.79 262.23 L186.87 262.20 L187.94 262.18 L189.02 262.15 L190.09 262.12 L191.17 262.09 L192.24 262.06 L193.32 262.03 L194.39 261.99 L195.47 261.96 L196.55 261.91 L197.62 261.87 L198.70 261.82 L199.77 261.77 L200.85 261.71 L201.92 261.65 L203.00 261.58 L204.07 261.51 L205.15 261.44 L206.22 261.36 L207.30 261.27" stroke="#878787" stroke-width="1.3"/>
<path d="M36.30 395.79 L37.38 395.15 L38.45 394.45 L39.53 393.70 L40.60 392.90 L41.68 392.05 L42.75 391.15 L43.83 390.20 L44.90 389.21 L45.98 388.17 L47.05 387.08 L48.13 385.95 L49.21 384.78 L50.28 383.56 L51.36 382.30 L52.43 381.00 L53.51 379.66 L54.58 378.28 L55.66 376.86 L56.73 375.40 L57.81 373.90 L58.88 372.37 L59.96 370.80 L61.04 369.20 L62.11 367.57 L63.19 365.90 L64.26 364.19 L65.34 362.46 L66.41 360.70 L67.49 358.91 L68.56 357.09 L69.64 355.25 L70.72 353.39 L71.79 351.51 L72.87 349.62 L73.94 347.72 L75.02 345.80 L76.09 343.88 L77.17 341.95 L78.24 340.02 L79.32 338.09 L80.39 336.16 L81.47 334.24 L82.55 332.33 L83.62 330.42 L84.70 328.53 L85.77 326.66 L86.85 324.80 L87.92 322.97 L89.00 321.16 L90.07 319.37 L91.15 317.61 L92.22 315.89 L93.30 314.20 L94.38 312.54 L95.45 310.92 L96.53 309.33 L97.60 307.78 L98.68 306.26 L99.75 304.78 L100.83 303.33 L101.90 301.92 L102.98 300.53 L104.05 299.18 L105.13 297.86 L106.21 296.57 L107.28 295.32 L108.36 294.09 L109.43 292.89 L110.51 291.73 L111.58 290.59 L112.66 289.49 L113.73 288.41 L114.81 287.36 L115.88 286.34 L116.96 285.35 L118.04 284.38 L119.11 283.44 L120.19 282.53 L121.26 281.64 L122.34 280.78 L123.41 279.95 L124.49 279.14 L125.56 278.35 L126.64 277.59 L127.72 276.85 L128.79 276.14 L129.87 275.45 L130.94 274.78 L132.02 274.14 L133.09 273.51 L134.17 272.91 L135.24 272.33 L136.32 271.77 L137.39 271.23 L138.47 270.71 L139.55 270.21 L140.62 269.73 L141.70 269.27 L142.77 268.83 L143.85 268.40 L144.92 267.99 L146.00 267.60 L147.07 267.23 L148.15 266.87 L149.22 266.53 L150.30 266.21 L151.38 265.90 L152.45 265.61 L153.53 265.33 L154.60 265.06 L155.68 264.81 L156.75 264.57 L157.83 264.35 L158.90 264.14 L159.98 263.94 L161.05 263.75 L162.13 263.57 L163.21 263.41 L164.28 263.26 L165.36 263.11 L166.43 262.98 L167.51 262.86 L168.58 262.74 L169.66 262.64 L170.73 262.54 L171.81 262.45 L172.88 262.37 L173.96 262.29 L175.04 262.23 L176.11 262.17 L177.19 262.11 L178.26 262.06 L179.34 262.02 L180.41 261.98 L181.49 261.95 L182.56 261.92 L183.64 261.90 L184.72 261.87 L185.79 261.85 L186.87 261.84 L187.94 261.83 L189.02 261.81 L190.09 261.80 L191.17 261.80 L192.24 261.79 L193.32 261.78 L194.39 261.77 L195.47 261.76 L196.55 261.76 L197.62 261.75 L198.70 261.74 L199.77 261.72 L200.85 261.71 L201.92 261.69 L203.00 261.67 L204.07 261.64 L205.15 261.62 L206.22 261.58 L207.30 261.55" stroke="#8f8f8f" stroke-width="1.2" stroke-dasharray="5.5 1.6"/>
</g>
<line x1="77.2" y1="305.1" x2="69.2" y2="326.5" stroke="#808080" stroke-width="1.1"/>
<polygon points="68.2,330.2 66.3,325.6 70.8,326.6" fill="#808080"/>
<line x1="87.8" y1="339" x2="99.8" y2="321.5" stroke="#8a8a8a" stroke-width="1.1" stroke-dasharray="3 2"/>
<polygon points="101.6,318.4 97.7,320.9 100.9,323.3" fill="#8a8a8a"/>
<text x="141.25" y="389.50" font-size="9.20" fill="#333" stroke="#333" stroke-width="0.20" textLength="50.5" lengthAdjust="spacingAndGlyphs" style="font-family:'Liberation Serif',serif">SS NDRBC</text>
<line x1="238" y1="226" x2="238" y2="425" stroke="#dcdcdc" stroke-width="1"/>
<line x1="171" y1="425.3" x2="238" y2="425.3" stroke="#dcdcdc" stroke-width="1"/>
<line x1="4" y1="425.3" x2="65" y2="425.3" stroke="#dcdcdc" stroke-width="1"/>
<line x1="134" y1="426.5" x2="134" y2="431" stroke="#d0d0d0" stroke-width="1"/>
<line x1="35" y1="219" x2="35" y2="225" stroke="#d8d8d8" stroke-width="1"/>
<rect x="313.30" y="261.00" width="171.00" height="135.50" fill="none" stroke="#868686" stroke-width="1.25"/>
<line x1="311.30" y1="396.50" x2="313.30" y2="396.50" stroke="#868686" stroke-width="1.25"/>
<text x="309.40" y="398.54" font-size="6.00" fill="#666" font-weight="bold" text-anchor="end" textLength="6.5" lengthAdjust="spacingAndGlyphs">0.0</text>
<line x1="311.30" y1="369.40" x2="313.30" y2="369.40" stroke="#868686" stroke-width="1.25"/>
<text x="309.40" y="371.44" font-size="6.00" fill="#666" font-weight="bold" text-anchor="end" textLength="6.5" lengthAdjust="spacingAndGlyphs">0.2</text>
<line x1="311.30" y1="342.30" x2="313.30" y2="342.30" stroke="#868686" stroke-width="1.25"/>
<text x="309.40" y="344.34" font-size="6.00" fill="#666" font-weight="bold" text-anchor="end" textLength="6.5" lengthAdjust="spacingAndGlyphs">0.4</text>
<line x1="311.30" y1="315.20" x2="313.30" y2="315.20" stroke="#868686" stroke-width="1.25"/>
<text x="309.40" y="317.24" font-size="6.00" fill="#666" font-weight="bold" text-anchor="end" textLength="6.5" lengthAdjust="spacingAndGlyphs">0.6</text>
<line x1="311.30" y1="288.10" x2="313.30" y2="288.10" stroke="#868686" stroke-width="1.25"/>
<text x="309.40" y="290.14" font-size="6.00" fill="#666" font-weight="bold" text-anchor="end" textLength="6.5" lengthAdjust="spacingAndGlyphs">0.8</text>
<line x1="311.30" y1="261.00" x2="313.30" y2="261.00" stroke="#868686" stroke-width="1.25"/>
<text x="309.40" y="263.04" font-size="6.00" fill="#666" font-weight="bold" text-anchor="end" textLength="6.5" lengthAdjust="spacingAndGlyphs">1.0</text>
<line x1="313.30" y1="396.50" x2="313.30" y2="398.50" stroke="#868686" stroke-width="1.25"/>
<text x="313.30" y="406.00" font-size="6.00" fill="#666" font-weight="bold" text-anchor="middle" textLength="2.6" lengthAdjust="spacingAndGlyphs">0</text>
<line x1="337.73" y1="396.50" x2="337.73" y2="398.50" stroke="#868686" stroke-width="1.25"/>
<text x="337.73" y="406.00" font-size="6.00" fill="#666" font-weight="bold" text-anchor="middle" textLength="5.2" lengthAdjust="spacingAndGlyphs">20</text>
<line x1="362.16" y1="396.50" x2="362.16" y2="398.50" stroke="#868686" stroke-width="1.25"/>
<text x="362.16" y="406.00" font-size="6.00" fill="#666" font-weight="bold" text-anchor="middle" textLength="5.2" lengthAdjust="spacingAndGlyphs">40</text>
<line x1="386.59" y1="396.50" x2="386.59" y2="398.50" stroke="#868686" stroke-width="1.25"/>
<text x="386.59" y="406.00" font-size="6.00" fill="#666" font-weight="bold" text-anchor="middle" textLength="5.2" lengthAdjust="spacingAndGlyphs">60</text>
<line x1="411.01" y1="396.50" x2="411.01" y2="398.50" stroke="#868686" stroke-width="1.25"/>
<text x="411.01" y="406.00" font-size="6.00" fill="#666" font-weight="bold" text-anchor="middle" textLength="5.2" lengthAdjust="spacingAndGlyphs">80</text>
<line x1="435.44" y1="396.50" x2="435.44" y2="398.50" stroke="#868686" stroke-width="1.25"/>
<text x="435.44" y="406.00" font-size="6.00" fill="#666" font-weight="bold" text-anchor="middle" textLength="7.8" lengthAdjust="spacingAndGlyphs">100</text>
<line x1="459.87" y1="396.50" x2="459.87" y2="398.50" stroke="#868686" stroke-width="1.25"/>
<text x="459.87" y="406.00" font-size="6.00" fill="#666" font-weight="bold" text-anchor="middle" textLength="7.8" lengthAdjust="spacingAndGlyphs">120</text>
<line x1="484.30" y1="396.50" x2="484.30" y2="398.50" stroke="#868686" stroke-width="1.25"/>
<text x="484.30" y="406.00" font-size="6.00" fill="#666" font-weight="bold" text-anchor="middle" textLength="7.8" lengthAdjust="spacingAndGlyphs">140</text>
<text x="295.40" y="242.60" font-size="12.40" fill="#111" font-weight="bold" stroke="#111" stroke-width="0.40" textLength="8.8" lengthAdjust="spacingAndGlyphs">D</text>
<text x="331.95" y="244.60" font-size="7.50" fill="#1a1a1a" font-weight="bold" stroke="#1a1a1a" stroke-width="0.45" textLength="63.6" lengthAdjust="spacingAndGlyphs">Oxyhemoglobin</text>
<text x="398.25" y="244.60" font-size="7.50" fill="#1a1a1a" font-weight="bold" stroke="#1a1a1a" stroke-width="0.45" textLength="43.8" lengthAdjust="spacingAndGlyphs">equilibium</text>
<text x="443.55" y="244.60" font-size="7.50" fill="#1a1a1a" font-weight="bold" stroke="#1a1a1a" stroke-width="0.45" textLength="22.0" lengthAdjust="spacingAndGlyphs">curve</text>
<text x="350.25" y="422.00" font-size="7.70" fill="#1a1a1a" font-weight="bold" stroke="#1a1a1a" stroke-width="0.45" textLength="30.5" lengthAdjust="spacingAndGlyphs">Oxygen</text>
<text x="382.95" y="422.00" font-size="7.70" fill="#1a1a1a" font-weight="bold" stroke="#1a1a1a" stroke-width="0.45" textLength="35.7" lengthAdjust="spacingAndGlyphs">Pressure</text>
<text x="420.05" y="422.00" font-size="7.70" fill="#1a1a1a" font-weight="bold" stroke="#1a1a1a" stroke-width="0.45" textLength="22.6" lengthAdjust="spacingAndGlyphs">(Torr)</text>
<text transform="translate(290.8,331.4) rotate(-90)" x="0" y="0" font-size="6.5" fill="#333" stroke="#333" stroke-width="0.2" font-weight="bold" text-anchor="middle" textLength="149.5" lengthAdjust="spacingAndGlyphs">Relative fraction of saturated hemoglobin in O2</text>
<g fill="none" stroke-linejoin="round">
<path d="M313.30 396.50 L314.38 395.70 L315.45 394.84 L316.53 393.94 L317.60 392.99 L318.68 392.01 L319.75 390.99 L320.83 389.93 L321.90 388.83 L322.98 387.70 L324.05 386.53 L325.13 385.34 L326.21 384.11 L327.28 382.84 L328.36 381.55 L329.43 380.24 L330.51 378.89 L331.58 377.52 L332.66 376.12 L333.73 374.70 L334.81 373.26 L335.88 371.79 L336.96 370.31 L338.04 368.80 L339.11 367.28 L340.19 365.74 L341.26 364.19 L342.34 362.62 L343.41 361.03 L344.49 359.44 L345.56 357.83 L346.64 356.21 L347.72 354.59 L348.79 352.95 L349.87 351.31 L350.94 349.67 L352.02 348.01 L353.09 346.36 L354.17 344.70 L355.24 343.05 L356.32 341.39 L357.39 339.73 L358.47 338.08 L359.55 336.43 L360.62 334.78 L361.70 333.14 L362.77 331.51 L363.85 329.89 L364.92 328.27 L366.00 326.67 L367.07 325.07 L368.15 323.49 L369.22 321.93 L370.30 320.37 L371.38 318.84 L372.45 317.32 L373.53 315.82 L374.60 314.34 L375.68 312.88 L376.75 311.44 L377.83 310.02 L378.90 308.63 L379.98 307.26 L381.05 305.92 L382.13 304.61 L383.21 303.32 L384.28 302.05 L385.36 300.81 L386.43 299.60 L387.51 298.41 L388.58 297.24 L389.66 296.10 L390.73 294.98 L391.81 293.88 L392.88 292.81 L393.96 291.76 L395.04 290.74 L396.11 289.73 L397.19 288.75 L398.26 287.79 L399.34 286.85 L400.41 285.94 L401.49 285.04 L402.56 284.17 L403.64 283.31 L404.72 282.48 L405.79 281.67 L406.87 280.88 L407.94 280.10 L409.02 279.35 L410.09 278.62 L411.17 277.90 L412.24 277.21 L413.32 276.53 L414.39 275.88 L415.47 275.24 L416.55 274.61 L417.62 274.01 L418.70 273.42 L419.77 272.85 L420.85 272.30 L421.92 271.77 L423.00 271.25 L424.07 270.75 L425.15 270.26 L426.22 269.79 L427.30 269.33 L428.38 268.89 L429.45 268.47 L430.53 268.06 L431.60 267.67 L432.68 267.28 L433.75 266.92 L434.83 266.57 L435.90 266.23 L436.98 265.90 L438.05 265.59 L439.13 265.29 L440.21 265.00 L441.28 264.73 L442.36 264.47 L443.43 264.22 L444.51 263.98 L445.58 263.75 L446.66 263.54 L447.73 263.34 L448.81 263.14 L449.88 262.96 L450.96 262.79 L452.04 262.63 L453.11 262.47 L454.19 262.33 L455.26 262.20 L456.34 262.07 L457.41 261.96 L458.49 261.85 L459.56 261.75 L460.64 261.66 L461.72 261.58 L462.79 261.51 L463.87 261.44 L464.94 261.38 L466.02 261.33 L467.09 261.28 L468.17 261.24 L469.24 261.21 L470.32 261.18 L471.39 261.16 L472.47 261.15 L473.55 261.14 L474.62 261.13 L475.70 261.13 L476.77 261.14 L477.85 261.15 L478.92 261.16 L480.00 261.18 L481.07 261.20 L482.15 261.22 L483.22 261.25 L484.30 261.28" stroke="#878787" stroke-width="1.3"/>
<path d="M313.30 396.50 L314.38 395.51 L315.45 394.50 L316.53 393.47 L317.60 392.43 L318.68 391.38 L319.75 390.31 L320.83 389.24 L321.90 388.15 L322.98 387.05 L324.05 385.94 L325.13 384.83 L326.21 383.70 L327.28 382.56 L328.36 381.42 L329.43 380.27 L330.51 379.10 L331.58 377.93 L332.66 376.76 L333.73 375.57 L334.81 374.38 L335.88 373.19 L336.96 371.99 L338.04 370.78 L339.11 369.57 L340.19 368.35 L341.26 367.13 L342.34 365.90 L343.41 364.67 L344.49 363.44 L345.56 362.20 L346.64 360.96 L347.72 359.72 L348.79 358.48 L349.87 357.23 L350.94 355.98 L352.02 354.74 L353.09 353.49 L354.17 352.24 L355.24 351.00 L356.32 349.75 L357.39 348.50 L358.47 347.26 L359.55 346.02 L360.62 344.78 L361.70 343.54 L362.77 342.30 L363.85 341.07 L364.92 339.84 L366.00 338.62 L367.07 337.40 L368.15 336.18 L369.22 334.97 L370.30 333.76 L371.38 332.56 L372.45 331.37 L373.53 330.18 L374.60 329.00 L375.68 327.83 L376.75 326.66 L377.83 325.50 L378.90 324.35 L379.98 323.21 L381.05 322.08 L382.13 320.95 L383.21 319.84 L384.28 318.74 L385.36 317.64 L386.43 316.56 L387.51 315.49 L388.58 314.43 L389.66 313.38 L390.73 312.34 L391.81 311.32 L392.88 310.31 L393.96 309.31 L395.04 308.33 L396.11 307.36 L397.19 306.40 L398.26 305.46 L399.34 304.53 L400.41 303.61 L401.49 302.71 L402.56 301.82 L403.64 300.94 L404.72 300.07 L405.79 299.22 L406.87 298.38 L407.94 297.56 L409.02 296.74 L410.09 295.94 L411.17 295.15 L412.24 294.37 L413.32 293.61 L414.39 292.86 L415.47 292.12 L416.55 291.39 L417.62 290.67 L418.70 289.96 L419.77 289.27 L420.85 288.59 L421.92 287.92 L423.00 287.26 L424.07 286.61 L425.15 285.97 L426.22 285.35 L427.30 284.73 L428.38 284.13 L429.45 283.53 L430.53 282.95 L431.60 282.38 L432.68 281.82 L433.75 281.27 L434.83 280.73 L435.90 280.20 L436.98 279.68 L438.05 279.17 L439.13 278.67 L440.21 278.18 L441.28 277.70 L442.36 277.23 L443.43 276.76 L444.51 276.31 L445.58 275.87 L446.66 275.44 L447.73 275.01 L448.81 274.60 L449.88 274.20 L450.96 273.80 L452.04 273.41 L453.11 273.03 L454.19 272.66 L455.26 272.30 L456.34 271.95 L457.41 271.61 L458.49 271.27 L459.56 270.94 L460.64 270.62 L461.72 270.31 L462.79 270.01 L463.87 269.71 L464.94 269.43 L466.02 269.15 L467.09 268.87 L468.17 268.61 L469.24 268.35 L470.32 268.10 L471.39 267.86 L472.47 267.62 L473.55 267.39 L474.62 267.17 L475.70 266.96 L476.77 266.75 L477.85 266.55 L478.92 266.36 L480.00 266.17 L481.07 265.99 L482.15 265.81 L483.22 265.64 L484.30 265.48" stroke="#8f8f8f" stroke-width="1.2" stroke-dasharray="5.5 1.6"/>
</g>
<line x1="374.4" y1="300.2" x2="362.6" y2="316.9" stroke="#808080" stroke-width="1.1"/>
<polygon points="360.4,319.9 360.9,315.2 364.5,317.8" fill="#808080"/>
<line x1="379.2" y1="331.9" x2="393.2" y2="317.8" stroke="#8a8a8a" stroke-width="1.1" stroke-dasharray="3 2"/>
<polygon points="395.8,315.4 391.4,316.6 394.2,319.5" fill="#8a8a8a"/>
<text x="436.25" y="389.25" font-size="9.20" fill="#333" stroke="#333" stroke-width="0.20" textLength="39.5" lengthAdjust="spacingAndGlyphs" style="font-family:'Liberation Serif',serif">SS DRBC</text>
<line x1="478" y1="219.2" x2="490" y2="219.2" stroke="#e2e2e2" stroke-width="1.5"/>
<line x1="277" y1="426.2" x2="504" y2="426.2" stroke="#dcdcdc" stroke-width="1"/>
</svg></body></html>
